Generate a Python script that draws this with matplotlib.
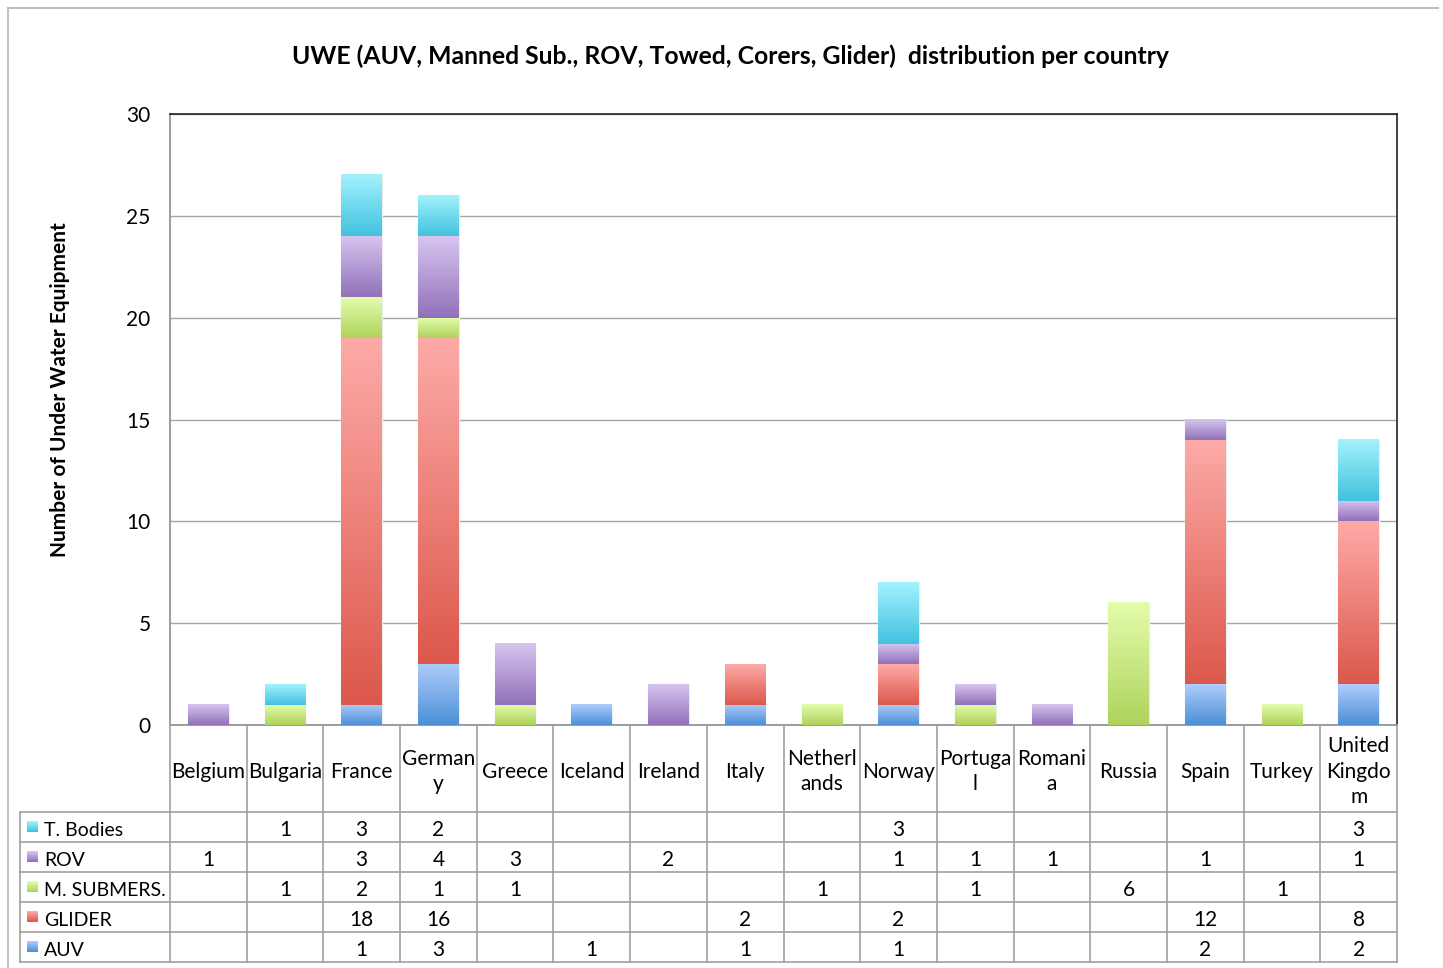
import numpy as np
import matplotlib
matplotlib.use("Agg")
import matplotlib.pyplot as plt
from matplotlib.colors import to_rgb
from matplotlib.lines import Line2D
from matplotlib.patches import Rectangle

plt.rcParams['font.family'] = ['Lato', 'DejaVu Sans']

countries = ["Belgium", "Bulgaria", "France", "German\ny", "Greece", "Iceland",
             "Ireland", "Italy", "Netherl\nands", "Norway", "Portuga\nl",
             "Romani\na", "Russia", "Spain", "Turkey", "United\nKingdo\nm"]

auv = [0, 0, 1, 3, 0, 1, 0, 1, 0, 1, 0, 0, 0, 2, 0, 2]
glider = [0, 0, 18, 16, 0, 0, 0, 2, 0, 2, 0, 0, 0, 12, 0, 8]
submers = [0, 1, 2, 1, 1, 0, 0, 0, 1, 0, 1, 0, 6, 0, 1, 0]
rov = [1, 0, 3, 4, 3, 0, 2, 0, 0, 1, 1, 1, 0, 1, 0, 1]
tbodies = [0, 1, 3, 2, 0, 0, 0, 0, 0, 3, 0, 0, 0, 0, 0, 3]

series = [("AUV", auv, "#aecdfa", "#4d8fd8"),
          ("GLIDER", glider, "#fdaaa7", "#dc584c"),
          ("M. SUBMERS.", submers, "#e4fcac", "#aed35c"),
          ("ROV", rov, "#d7c5ef", "#9171ba"),
          ("T. Bodies", tbodies, "#a3f2fd", "#42c2df")]

W, H = 1443, 968
fig = plt.figure(figsize=(W / 100, H / 100), dpi=100)


def fx(px):
    return px / W


def fy(py):
    return 1 - py / H


# outer frame
fig.add_artist(Line2D([fx(8), fx(1438)], [fy(8), fy(8)], color="#c0c0c0", lw=1.5))
fig.add_artist(Line2D([fx(8), fx(8)], [fy(8), 0], color="#c0c0c0", lw=1.5))

L, R, T, B = 170, 1397, 114, 725
ax = fig.add_axes([fx(L), fy(B), fx(R) - fx(L), fy(T) - fy(B)])

n = len(countries)
x = np.arange(n)
bottom = np.zeros(n)
for name, vals, top_c, bot_c in series:
    vals = np.array(vals, dtype=float)
    bars = ax.bar(x, vals, width=0.53, bottom=bottom, color="none",
                  edgecolor="none", zorder=3)
    for rect, v in zip(bars, vals):
        if v <= 0:
            continue
        x0, y0 = rect.get_x(), rect.get_y()
        w, h = rect.get_width(), rect.get_height()
        t = np.linspace(0, 1, 64)[:, None]
        grad = (1 - t) * np.array(to_rgb(top_c)) + t * np.array(to_rgb(bot_c))
        ax.imshow(grad[:, None, :], extent=(x0, x0 + w, y0, y0 + h),
                  aspect="auto", interpolation="bilinear", zorder=3)
        ax.add_patch(Rectangle((x0, y0), w, h, fill=False,
                               edgecolor="#eeeeee", lw=1, zorder=2))
    bottom += vals

ax.set_xlim(-0.5, n - 0.5)
ax.set_ylim(0, 30)
ax.set_yticks(range(0, 31, 5))
ax.yaxis.grid(True, color="#a6a6a6", lw=1)
ax.set_axisbelow(True)
ax.set_xticks([])
ax.tick_params(axis="y", length=0, pad=14, labelsize=15)
ax.spines["left"].set_color("#8c8c8c")
ax.spines["bottom"].set_color("#8c8c8c")
ax.spines["top"].set_color("#222222")
ax.spines["right"].set_color("#222222")
for s in ax.spines.values():
    s.set_linewidth(1.2)

fig.text(fx(730), fy(56), "UWE (AUV, Manned Sub., ROV, Towed, Corers, Glider)  distribution per country",
         ha="center", va="center", fontsize=17.8, fontweight="bold")
fig.text(fx(60), fy(390), "Number of Under Water Equipment", rotation=90,
         ha="center", va="center", fontsize=15, fontweight="bold")

# data table below the chart
tab = fig.add_axes([0, 0, 1, 1], facecolor="none")
tab.set_xlim(0, W)
tab.set_ylim(H, 0)
tab.axis("off")
grid_c = "#a0a0a0"
colw = (R - L) / n
hdr_bot = 812
row_h = 30
rows = list(reversed(series))
tab_bot = hdr_bot + row_h * len(rows)
for i in range(n + 1):
    xl = L + i * colw
    tab.plot([xl, xl], [B, tab_bot], color=grid_c, lw=1.2)
tab.plot([20, 20], [hdr_bot, tab_bot], color=grid_c, lw=1.2)
for j in range(len(rows) + 1):
    yl = hdr_bot + j * row_h
    tab.plot([20, R], [yl, yl], color=grid_c, lw=1.2)

for i, c in enumerate(countries):
    tab.text(L + (i + 0.5) * colw, (B + hdr_bot) / 2 + 3, c, ha="center",
             va="center", fontsize=15, linespacing=1.35)

for j, (name, vals, top_c, bot_c) in enumerate(rows):
    yc = hdr_bot + (j + 0.5) * row_h
    t = np.linspace(0, 1, 16)[:, None]
    grad = (1 - t) * np.array(to_rgb(top_c)) + t * np.array(to_rgb(bot_c))
    tab.imshow(grad[:, None, :], extent=(27, 38, yc + 5.5, yc - 5.5),
               aspect="auto", interpolation="bilinear")
    tab.text(44, yc + 3, name, ha="left", va="center", fontsize=14)
    for i, v in enumerate(vals):
        if v:
            tab.text(L + (i + 0.5) * colw, yc + 3, str(v), ha="center",
                     va="center", fontsize=15)
tab.set_xlim(0, W)
tab.set_ylim(H, 0)

fig.savefig("out.png", dpi=100)
